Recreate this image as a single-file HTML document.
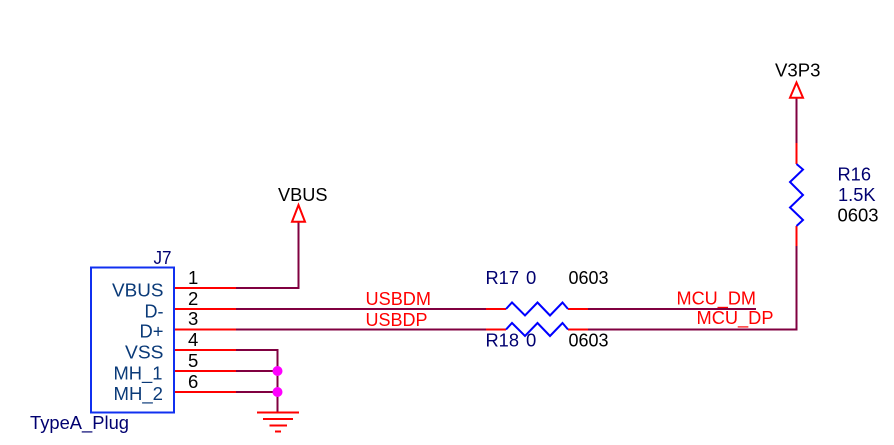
<!DOCTYPE html>
<html><head><meta charset="utf-8"><style>
html,body{margin:0;padding:0;background:#fff;width:894px;height:445px;overflow:hidden}
svg{display:block}
text{font-family:"Liberation Sans",sans-serif;font-size:18.5px}
.k{fill:#000}.n{fill:#000070}.p{fill:#0a3a78}.r{fill:#ff0000}
</style></head><body>
<svg width="894" height="445" viewBox="0 0 894 445" xmlns="http://www.w3.org/2000/svg">
<g fill="none" stroke-width="2">
<!-- wires -->
<g stroke="#800040">
<path d="M236 288H298.5V222"/>
<path d="M236 309H486M588 309H756"/>
<path d="M236 329.5H486M588 329.5H796.5V245"/>
<path d="M236 350H277.5V412M236 371H277.5M236 392H277.5"/>
<path d="M796.5 143V98"/>
</g>
<!-- pins -->
<g stroke="#ff0000">
<path d="M174 288H236M174 309H236M174 329.5H236M174 350H236M174 371H236M174 392H236"/>
<path d="M486 309H506M568 309H588M486 329.5H506M568 329.5H588"/>
<path d="M796.5 246V226M796.5 164V143"/>
<path d="M257 412.5H299M263 419H293M269.5 425.5H287M275 431.5H281"/>
<path d="M298.5 205L292 221.7H305ZM796.5 82.5L790 97.7H803Z"/>
</g>
<!-- parts -->
<g stroke="#0000ff">
<rect x="91" y="267.5" width="83" height="145" stroke="#1030f0"/>
<path d="M506 309L512 302.5L525 315.5L537.5 302.5L550 315.5L562.5 302.5L568 309"/>
<path d="M506 329.5L512 323L525 336L537.5 323L550 336L562.5 323L568 329.5"/>
<path d="M796.5 226L803 220L790 207.5L803 195L790 182L803 169.5L796.5 164"/>
</g>
</g>
<circle cx="277.5" cy="371" r="5" fill="#ff00ff"/>
<circle cx="277.5" cy="392" r="5" fill="#ff00ff"/>
<!-- labels -->
<text class="n" x="153.5" y="264" textLength="18" lengthAdjust="spacingAndGlyphs">J7</text>
<text class="k" x="188" y="284">1</text>
<text class="k" x="188" y="305">2</text>
<text class="k" x="188" y="325">3</text>
<text class="k" x="188" y="346">4</text>
<text class="k" x="188" y="367">5</text>
<text class="k" x="188" y="388">6</text>
<text class="p" x="112" y="296.7" textLength="51.5" lengthAdjust="spacingAndGlyphs">VBUS</text>
<text class="p" x="144.5" y="317.3" textLength="19" lengthAdjust="spacingAndGlyphs">D-</text>
<text class="p" x="139.5" y="337.7" textLength="24" lengthAdjust="spacingAndGlyphs">D+</text>
<text class="p" x="125" y="358.7" textLength="38.5" lengthAdjust="spacingAndGlyphs">VSS</text>
<text class="p" x="113.5" y="379.3" textLength="49" lengthAdjust="spacingAndGlyphs">MH_1</text>
<text class="p" x="113.5" y="400" textLength="49.5" lengthAdjust="spacingAndGlyphs">MH_2</text>
<text class="n" x="30" y="429" textLength="99" lengthAdjust="spacingAndGlyphs">TypeA_Plug</text>
<text class="r" x="365.5" y="305" textLength="65.5" lengthAdjust="spacingAndGlyphs">USBDM</text>
<text class="r" x="365.5" y="326" textLength="62" lengthAdjust="spacingAndGlyphs">USBDP</text>
<text class="n" x="485.5" y="284" textLength="33.5" lengthAdjust="spacingAndGlyphs">R17</text>
<text class="n" x="526" y="284">0</text>
<text class="k" x="568.5" y="284" textLength="40" lengthAdjust="spacingAndGlyphs">0603</text>
<text class="n" x="485.5" y="346.7" textLength="33.5" lengthAdjust="spacingAndGlyphs">R18</text>
<text class="n" x="526" y="346.7">0</text>
<text class="k" x="568.5" y="346.7" textLength="40" lengthAdjust="spacingAndGlyphs">0603</text>
<text class="r" x="676.5" y="304.3" textLength="79.5" lengthAdjust="spacingAndGlyphs">MCU_DM</text>
<text class="r" x="696.5" y="324" textLength="77" lengthAdjust="spacingAndGlyphs">MCU_DP</text>
<text class="k" x="775" y="76.7" textLength="45.5" lengthAdjust="spacingAndGlyphs">V3P3</text>
<text class="k" x="278" y="201" textLength="49.5" lengthAdjust="spacingAndGlyphs">VBUS</text>
<text class="n" x="837.5" y="180.7" textLength="33.5" lengthAdjust="spacingAndGlyphs">R16</text>
<text class="n" x="838" y="201" textLength="37.5" lengthAdjust="spacingAndGlyphs">1.5K</text>
<text class="k" x="837.5" y="221.7" textLength="41" lengthAdjust="spacingAndGlyphs">0603</text>
</svg>
</body></html>
